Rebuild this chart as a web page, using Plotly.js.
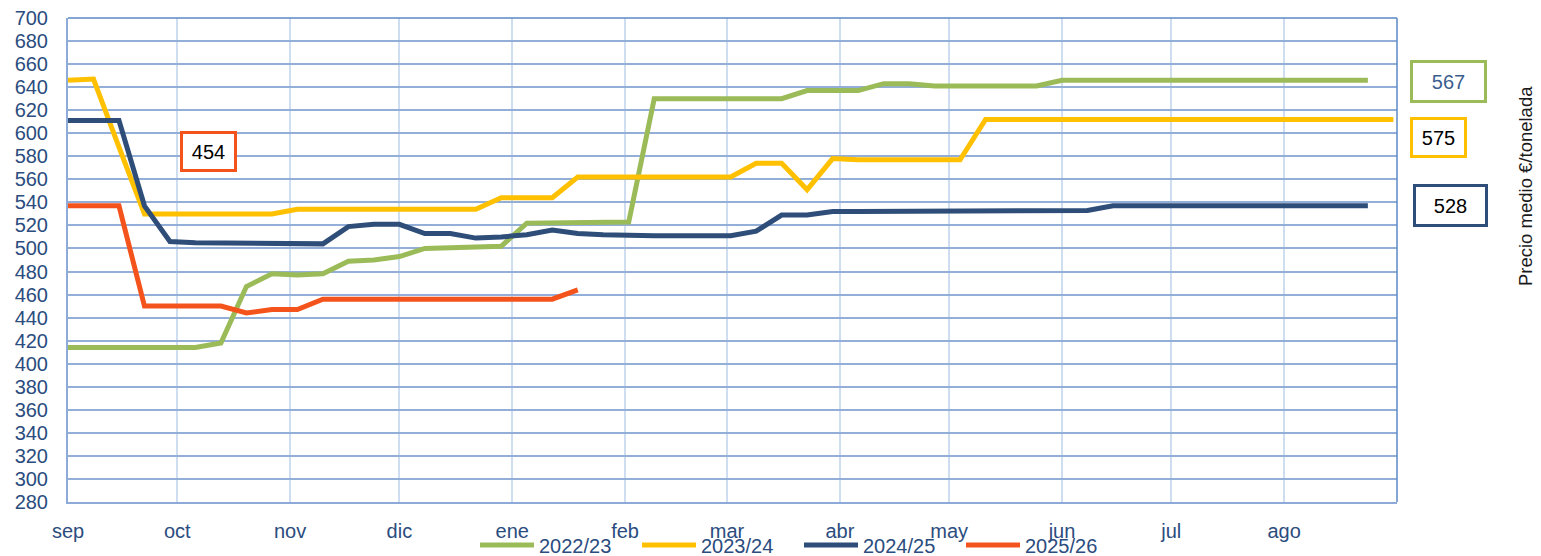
<!DOCTYPE html>
<html>
<head>
<meta charset="utf-8">
<script src="https://cdn.plot.ly/plotly-3.0.1.min.js"></script>
<style>html,body{margin:0;padding:0;background:#fff;}#chart{width:1541px;height:556px;}</style>
</head>
<body>
<div id="chart"></div>
<script>
// Month ticks (day offset from 1 Sep) and labels
const monthLabels = ['sep','oct','nov','dic','ene','feb','mar','abr','may','jun','jul','ago'];
const monthDays = [0,30,61,91,122,153,181,212,242,273,303,334];

// Weekly average prices (€/t), one value per week starting in September
const s2022_23 = [414,414,414,414,414,414,418,467,478,477,478,489,490,493,500,501,501,502,522,522,523,523,523,630,630,630,630,630,630,637,637,637,643,643,641,641,641,641,641,646,646,646,646,646,646,646,646,646,646,646,646,646];
const s2023_24 = [646,647,588,530,530,530,530,530,530,534,534,534,534,534,534,534,534,544,544,544,562,562,562,562,562,562,562,574,574,551,578,577,577,577,577,577,612,612,612,612,612,612,612,612,612,612,612,612,612,612,612,612,612];
const s2024_25 = [611,611,611,537,506,505,505,504,504,504,504,519,521,521,513,513,509,510,512,516,513,512,511,511,511,511,511,515,529,529,532,532,532,532,532,532,532,532,532,532,533,537,537,537,537,537,537,537,537,537,537,537];
const s2025_26 = [537,537,537,450,450,450,450,444,447,447,456,456,456,456,456,456,456,456,456,456,464];

const seriesNames = ['2022/23','2023/24','2024/25','2025/26'];
const seriesColors = ['#9BBB59','#FFC000','#2E4D78','#F4541C'];
const seriesData = [s2022_23, s2023_24, s2024_25, s2025_26];

// Box labels
const boxTexts = ['567','575','528','454'];

const traces = seriesData.map((vals, k) => ({
  type: 'scatter',
  mode: 'lines',
  name: seriesNames[k],
  x: vals.map((_, i) => i * 7),
  y: vals,
  line: {color: seriesColors[k], width: 5},
  hoverinfo: 'skip'
}));

const tickFont = {family: 'Liberation Sans, Arial, sans-serif', size: 20, color: '#2B4C7E'};

function box(text, x, y, w, h, border, color) {
  return {
    xref: 'paper', yref: 'paper', x: x, y: y, xanchor: 'center', yanchor: 'middle',
    text: text, showarrow: false, width: w, height: h,
    bordercolor: border, borderwidth: 3, borderpad: 0, bgcolor: '#ffffff',
    font: {family: 'Liberation Sans, Arial, sans-serif', size: 20, color: color}
  };
}

const layout = {
  width: 1541, height: 556,
  margin: {l: 68, r: 144, t: 18, b: 54, pad: 0},
  paper_bgcolor: '#ffffff', plot_bgcolor: '#ffffff',
  showlegend: true,
  legend: {
    orientation: 'h', xref: 'container', yref: 'container',
    x: 475 / 1541, xanchor: 'left', y: 1 - 545 / 556, yanchor: 'middle',
    entrywidth: 93, entrywidthmode: 'pixels', itemwidth: 54,
    font: tickFont, bgcolor: 'rgba(0,0,0,0)', tracegroupgap: 0
  },
  xaxis: {
    type: 'linear', range: [0, 365], tickmode: 'array',
    tickvals: monthDays, ticktext: monthLabels,
    showgrid: true, gridcolor: '#CFDDF0', gridwidth: 2,
    zeroline: false, showline: true, linecolor: '#8EAAD8', linewidth: 2,
    ticks: '', tickfont: tickFont, ticklabelstandoff: 10, fixedrange: true
  },
  yaxis: {
    range: [280, 700], dtick: 20, tick0: 280,
    showgrid: true, gridcolor: '#93AFD8', gridwidth: 2,
    zeroline: false, showline: true, linecolor: '#8EAAD8', linewidth: 2,
    ticks: '', tickfont: tickFont, ticklabelstandoff: 14, fixedrange: true
  },
  shapes: [
    {type: 'line', xref: 'paper', yref: 'paper', x0: 0, x1: 1, y0: 1, y1: 1, line: {color: '#5B88C6', width: 1.5}},
    {type: 'line', xref: 'paper', yref: 'paper', x0: 1, x1: 1, y0: 0, y1: 1, line: {color: '#5B88C6', width: 1.5}}
  ],
  annotations: [
    box(boxTexts[0], 1.0388, 0.8688, 71, 37, seriesColors[0], '#3B5E8E'),
    box(boxTexts[1], 1.0312, 0.7531, 51, 35, seriesColors[1], '#000000'),
    box(boxTexts[2], 1.0403, 0.6126, 69, 37, seriesColors[2], '#000000'),
    box(boxTexts[3], 0.1057, 0.7242, 51, 35, seriesColors[3], '#000000'),
    {
      xref: 'paper', yref: 'paper', x: 1.0971, y: 0.6529, xanchor: 'center', yanchor: 'middle',
      text: 'Precio medio €/tonelada', textangle: -90, showarrow: false,
      font: {family: 'Liberation Sans, Arial, sans-serif', size: 18.5, color: '#1a1a1a'}
    }
  ]
};

Plotly.newPlot('chart', traces, layout, {displayModeBar: false, staticPlot: true});
</script>
</body>
</html>
